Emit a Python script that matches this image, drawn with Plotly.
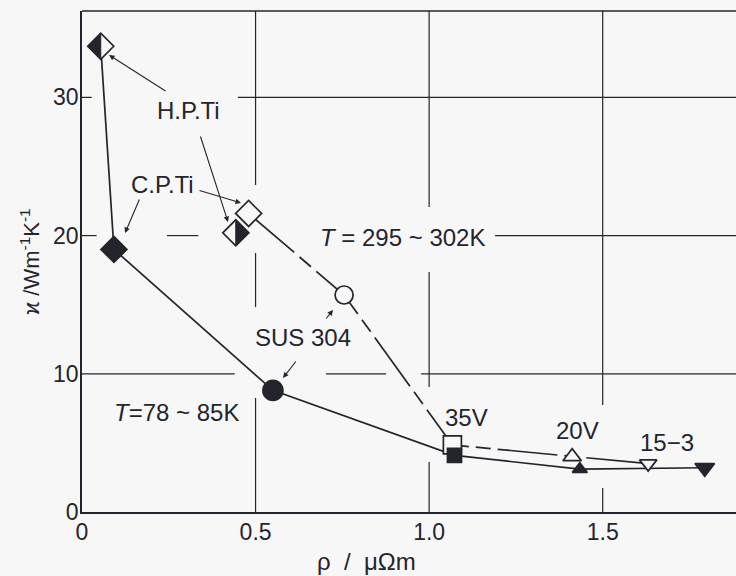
import plotly.graph_objects as go

# Thermal conductivity vs. electrical resistivity of Ti and stainless alloys
materials = ["H.P.Ti", "C.P.Ti", "SUS 304", "35V", "20V", "15-3"]
symbols = ["diamond", "diamond", "circle", "square", "triangle-up", "triangle-down"]

# T = 78 ~ 85 K (filled symbols, solid line)
rho_low = [0.054, 0.092, 0.550, 1.073, 1.434, 1.794]
kappa_low = [33.7, 19.0, 8.8, 4.1, 3.1, 3.2]
size_low = [20, 20, 20, 14, 13, 17]

# T = 295 ~ 302 K (open symbols, broken line)
rho_room = [0.443, 0.480, 0.755, 1.067, 1.412, 1.631]
kappa_room = [20.2, 21.6, 15.7, 4.85, 4.0, 3.5]
size_room = [20, 20, 18, 18, 16, 15]

x_ticks = [0, 0.5, 1.0, 1.5]
x_ticktext = ["0", "0.5", "1.0", "1.5"]
y_ticks = [0, 10, 20, 30]
y_ticktext = ["0", "10", "20", "30"]

INK = "#24242c"
BG = "#f7f7f8"
FONT = "Liberation Sans"

W, H = 736, 576
ML, MR, MT, MB = 82, 0, 11, 64
XMAX, YMAX = 1.884, 36.25


def paper(px, py):
    """Convert a pixel position on the page to paper coordinates."""
    return (px - ML) / (W - ML - MR), (H - MB - py) / (H - MT - MB)


fig = go.Figure()

# connecting lines
fig.add_trace(go.Scatter(
    x=rho_room[1:], y=kappa_room[1:], mode="lines",
    line=dict(color=INK, width=1.7, dash="60px,7px,15px,7px"),
    hoverinfo="skip", showlegend=False))
fig.add_trace(go.Scatter(
    x=rho_low, y=kappa_low, mode="lines",
    line=dict(color=INK, width=1.7),
    hoverinfo="skip", showlegend=False))

# open symbols (room temperature)
fig.add_trace(go.Scatter(
    x=rho_room, y=kappa_room, mode="markers", text=materials,
    marker=dict(symbol=symbols, size=size_room, color=BG, opacity=1,
                line=dict(color=INK, width=1.7)),
    showlegend=False))

# filled symbols (liquid-nitrogen temperature); H.P.Ti gets a half fill below
low_fill = [BG] + [INK] * (len(materials) - 1)
fig.add_trace(go.Scatter(
    x=rho_low, y=kappa_low, mode="markers", text=materials,
    marker=dict(symbol=symbols, size=size_low, color=low_fill, opacity=1,
                line=dict(color=INK, width=1.7)),
    showlegend=False))

# half-filled diamonds for H.P.Ti (left half at low T, right half at room T)
rd = 1.3 * size_low[0] / 2
half_left = f"M 0,{rd} L {-rd},0 L 0,{-rd} Z"
half_right = f"M 0,{rd} L {rd},0 L 0,{-rd} Z"
shapes = []
for xv, yv, p in [(rho_low[0], kappa_low[0], half_left),
                  (rho_room[0], kappa_room[0], half_right)]:
    shapes.append(dict(type="path", xref="x", yref="y",
                       xsizemode="pixel", ysizemode="pixel",
                       xanchor=xv, yanchor=yv, path=p,
                       fillcolor=INK, line=dict(color=INK, width=1),
                       layer="above"))

# broken grid lines (interrupted around labels and curves)
h_segments = [(30, 0, 0.028), (30, 0.449, XMAX),
              (20, 0, 0.042), (20, 0.245, 0.335), (20, 1.19, XMAX),
              (10, 0, 0.44), (10, 0.703, 0.876), (10, 0.977, XMAX)]
v_segments = [(0.5, 23.66, YMAX), (0.5, 14.83, 18.74), (0.5, 0, 8.25),
              (1.0, 22.07, YMAX), (1.0, 9.04, 17.37), (1.0, 0, 3.62),
              (1.5, 7.74, YMAX), (1.5, 0, 1.74)]
for yv, x0, x1 in h_segments:
    shapes.append(dict(type="line", xref="x", yref="y", x0=x0, x1=x1, y0=yv, y1=yv,
                       line=dict(color=INK, width=1.2), layer="below"))
for xv, y0, y1 in v_segments:
    shapes.append(dict(type="line", xref="x", yref="y", x0=xv, x1=xv, y0=y0, y1=y1,
                       line=dict(color=INK, width=1.2), layer="below"))
# top frame line
shapes.append(dict(type="line", xref="paper", yref="paper", x0=0, x1=1, y0=1, y1=1,
                   line=dict(color=INK, width=1.5), layer="below"))

annotations = []

# text labels
labels = [("H.P.Ti", 188, 111), ("C.P.Ti", 162, 185),
          ("<i>T</i> = 295 ~ 302K", 402, 237), ("SUS 304", 303, 337),
          ("<i>T</i>=78 ~ 85K", 176, 412), ("35V", 466, 417),
          ("20V", 577, 430), ("15\u22123", 667, 442)]
for txt, px, py in labels:
    ax_, ay_ = paper(px, py)
    annotations.append(dict(text=txt, xref="paper", yref="paper", x=ax_, y=ay_,
                            xanchor="center", yanchor="middle", showarrow=False,
                            font=dict(family=FONT, size=24, color=INK)))

# pointer arrows: head (px, py) and tail (px, py)
arrows = [(109, 55, 167, 92), (228, 222, 200, 135),
          (125, 233, 140, 198), (241, 203, 198, 190),
          (333, 310, 325, 320), (283, 378, 297, 360)]
for hx, hy, tx, ty in arrows:
    ax_, ay_ = paper(hx, hy)
    annotations.append(dict(text="", xref="paper", yref="paper", x=ax_, y=ay_,
                            ax=tx - hx, ay=ty - hy, showarrow=True,
                            arrowhead=2, arrowsize=1, arrowwidth=1.1,
                            arrowcolor=INK, standoff=0))

# axis titles
tx_, ty_ = paper(366, 561)
annotations.append(dict(text="\u03c1  /  \u03bc\u03a9m", xref="paper", yref="paper",
                        x=tx_, y=ty_, showarrow=False, xanchor="center", yanchor="middle",
                        font=dict(family=FONT, size=24, color=INK)))
tx_, ty_ = paper(30, 262)
annotations.append(dict(text="\u03f0 /Wm<sup>-1</sup>K<sup>-1</sup>", xref="paper", yref="paper",
                        x=tx_, y=ty_, showarrow=False, textangle=-90,
                        xanchor="center", yanchor="middle",
                        font=dict(family=FONT, size=22, color=INK)))

fig.update_layout(
    width=W, height=H,
    margin=dict(l=ML, r=MR, t=MT, b=MB, pad=0),
    paper_bgcolor=BG, plot_bgcolor=BG,
    showlegend=False,
    shapes=shapes, annotations=annotations,
    font=dict(family=FONT, color=INK),
    xaxis=dict(range=[0, XMAX], showgrid=False, zeroline=False,
               showline=True, linecolor=INK, linewidth=1.5,
               tickmode="array", tickvals=x_ticks, ticktext=x_ticktext,
               ticks="outside", ticklen=0, ticklabelstandoff=-1,
               tickfont=dict(family=FONT, size=23, color=INK)),
    yaxis=dict(range=[0, YMAX], showgrid=False, zeroline=False,
               showline=True, linecolor=INK, linewidth=1.5,
               tickmode="array", tickvals=y_ticks, ticktext=y_ticktext,
               ticks="outside", ticklen=0, ticklabelstandoff=-3,
               tickfont=dict(family=FONT, size=23, color=INK)),
)

fig.write_html("out.html")
